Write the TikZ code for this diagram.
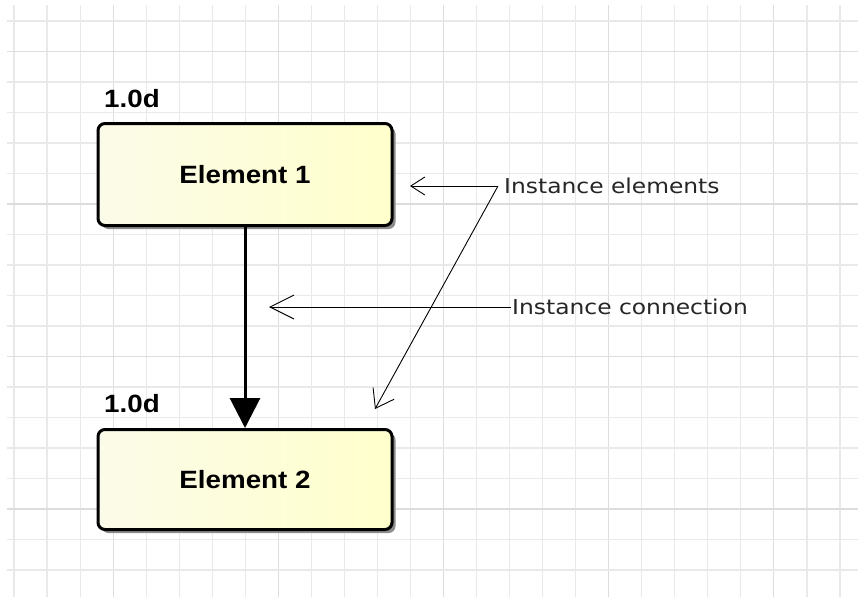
\documentclass[tikz,border=0pt]{standalone}
\usepackage{fontspec}
\setmainfont{Liberation Sans}
\newfontfamily\elfont[FakeStretch=1.11]{Liberation Sans}
\newfontfamily\notefont[FakeStretch=1.14]{DejaVu Sans}
\usetikzlibrary{arrows.meta,shadows}
\definecolor{gridminor}{HTML}{E9E9E9}
\definecolor{gridmajor}{HTML}{DDDDDD}
\definecolor{fillL}{HTML}{FBFBE9}
\definecolor{fillR}{HTML}{FFFFCC}
\tikzset{
  element/.style={draw=black, line width=3pt, rounded corners=7pt,
    left color=fillL, right color=fillR, inner sep=0pt,
    minimum width=294pt,
    drop shadow={shadow xshift=3.5pt, shadow yshift=-3.5pt, fill=black!45, opacity=1},
    font=\elfont\bfseries\fontsize{25}{30}\selectfont},
  multlabel/.style={anchor=base west, inner sep=0pt,
    font=\elfont\bfseries\fontsize{25}{30}\selectfont},
  note/.style={anchor=west, inner ysep=0pt, text=black!85,
    font=\notefont\fontsize{20.5}{24}\selectfont},
  noteline/.style={line width=0.9pt, black},
  link/.style={line width=3pt, -{Triangle[length=30pt,width=30pt]}}
}
\begin{document}
\begin{tikzpicture}[x=1pt,y=-1pt]
  \useasboundingbox (0,0) rectangle (858,597);
  \fill[white] (0,0) rectangle (858,597);
  % background grid, slightly darker line every fifth step
  \foreach \k in {0,...,25}{
    \pgfmathsetmacro{\gx}{14+33.04*\k}
    \pgfmathtruncatemacro{\m}{mod(\k,5)}
    \ifnum\m=3
      \draw[gridmajor, line width=1.1pt] (\gx,5) -- (\gx,597);
    \else
      \draw[gridminor, line width=1.1pt] (\gx,5) -- (\gx,597);
    \fi
  }
  \foreach \k in {0,...,18}{
    \pgfmathsetmacro{\gy}{21+30.5*\k}
    \pgfmathtruncatemacro{\m}{mod(\k,5)}
    \ifnum\m=1
      \draw[gridmajor, line width=1.1pt] (7,\gy) -- (858,\gy);
    \else
      \draw[gridminor, line width=1.1pt] (7,\gy) -- (858,\gy);
    \fi
  }

  % instance elements
  \node[element, minimum height=102pt] (e1) at (245,174.5) {Element 1};
  \node[element, minimum height=100pt] (e2) at (245,479.5) {Element 2};
  \node[multlabel] (m1) at (104,107) {1.0d};
  \node[multlabel] (m2) at (104,412) {1.0d};

  % instance connection
  \draw[link] (e1.south) -- (e2.north);

  % notes
  \node[note, inner xsep=6pt] (n1) at (498,186) {Instance elements};
  \node[note, inner xsep=1pt] (n2) at (511,307) {Instance connection};
  \coordinate (t1) at (410,186);
  \coordinate (t2) at (375,409);
  \coordinate (t3) at (269,307);
  \draw[noteline, -{Straight Barb[length=14pt,width=18pt,line width=0.9pt]}] (n1.west) -- (t1);
  \draw[noteline, -{Straight Barb[length=17pt,width=24pt,line width=0.9pt]}] (n1.west) -- (t2);
  \draw[noteline, -{Straight Barb[length=24pt,width=24pt,line width=0.9pt]}] (n2.west) -- (t3);
\end{tikzpicture}
\end{document}
